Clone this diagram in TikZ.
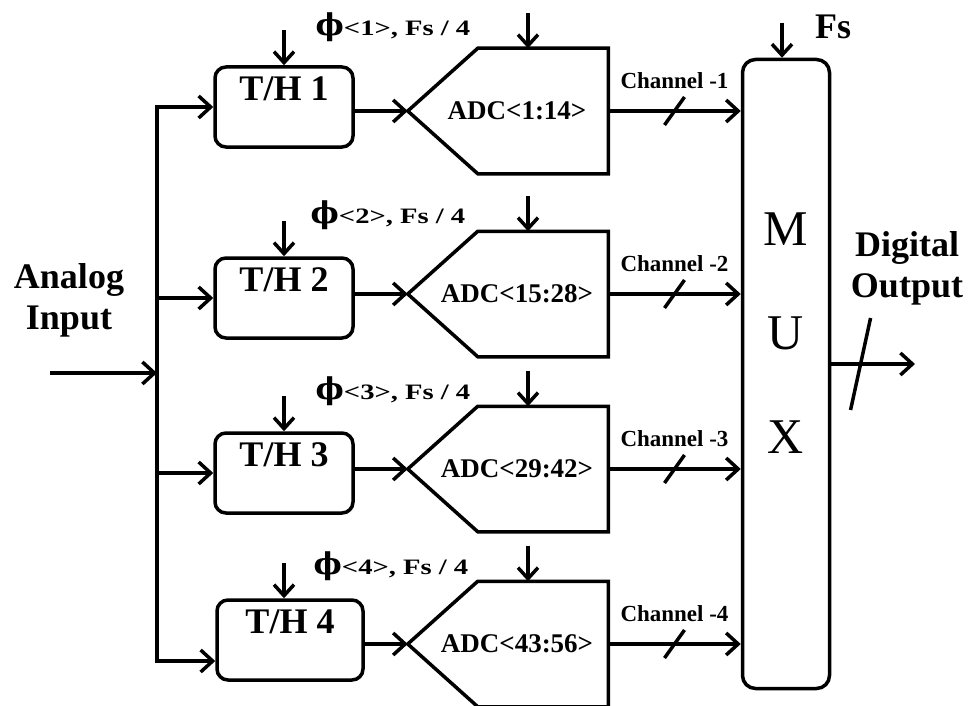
\documentclass[tikz,border=0pt]{standalone}
\usepackage{fontspec}
\setmainfont{Liberation Serif}
\newfontfamily\widefont[FakeStretch=1.3]{Liberation Serif}
\newfontfamily\phifont{DejaVu Serif}
\usetikzlibrary{arrows.meta, positioning}
\tikzset{
    diagram/.style={x=1pt, y=-1pt, line width=3.5pt},
    th box/.style={draw, rounded corners=11pt, inner sep=0pt,
        minimum width=138pt, minimum height=80pt},
    th label/.style={font=\fontsize{36}{40}\selectfont\bfseries,
        anchor=north, inner sep=0pt, yshift=-10pt},
    adc box/.style={inner sep=0pt, minimum width=197pt, minimum height=122pt,
        font=\fontsize{27}{30}\selectfont\bfseries,
        execute at begin node=\hspace*{18pt}},
    adc line/.style={line join=miter},
    mux box/.style={draw, rounded corners=13pt, minimum width=87pt, minimum height=629pt},
    mux label/.style={font=\fontsize{50}{104}\selectfont, align=center, yshift=41pt},
    sig arrow/.style={-{Straight Barb[length=12pt, width=22pt]}},
    clk arrow/.style={-{Straight Barb[length=11pt, width=20pt]}},
    slash/.style={line width=3.5pt},
    chan label/.style={font=\fontsize{23}{26}\selectfont\bfseries, inner sep=0pt},
    phase label/.style={font=\widefont\fontsize{22}{24}\selectfont\bfseries, inner sep=0pt},
    io label/.style={font=\fontsize{36}{41}\selectfont\bfseries, align=center, inner sep=0pt},
}
\newcommand{\adcoutline}[1]{%
  \draw[adc line] (#1.west) -- ([xshift=70pt]#1.north west) -- (#1.north east)
    -- (#1.south east) -- ([xshift=70pt]#1.south west) -- cycle;}
\newcommand{\phasesym}{{\phifont\fontsize{30}{30}\selectfont ϕ}}

\begin{document}
\begin{tikzpicture}[diagram]
  \useasboundingbox (0,0) rectangle (971,706);
  % track and hold stages
  \node[th box, label={[th label]north:T/H 1}] (th1) at (284,107) {};
  \node[th box, label={[th label]north:T/H 2}] (th2) at (284,298) {};
  \node[th box, label={[th label]north:T/H 3}] (th3) at (284,473) {};
  \node[th box, minimum width=146pt, label={[th label]north:T/H 4}] (th4) at (290,640) {};
  % sub ADCs
  \node[adc box] (adc1) at (508,111) {ADC<1:14>};
  \node[adc box] (adc2) at (508,294) {ADC<15:28>};
  \node[adc box] (adc3) at (508,469) {ADC<29:42>};
  \node[adc box] (adc4) at (508,644) {ADC<43:56>};
  \adcoutline{adc1}
  \adcoutline{adc2}
  \adcoutline{adc3}
  \adcoutline{adc4}
  \node[mux box, label={[mux label]center:M\\U\\X}] (mux) at (786,374) {};
  % clocks
  \node[phase label] (ph1) at ([xshift=109pt, yshift=38pt]th1.north) {\phasesym<1>, Fs / 4};
  \node[phase label] (ph2) at ([xshift=104pt, yshift=41pt]th2.north) {\phasesym<2>, Fs / 4};
  \node[phase label] (ph3) at ([xshift=109pt, yshift=40pt]th3.north) {\phasesym<3>, Fs / 4};
  \node[phase label] (ph4) at ([xshift=101pt, yshift=32pt]th4.north) {\phasesym<4>, Fs / 4};
  \draw[clk arrow] ([yshift=35pt]th1.north) -- (th1.north);
  \draw[clk arrow] ([yshift=35pt]th2.north) -- (th2.north);
  \draw[clk arrow] ([yshift=35pt]th3.north) -- (th3.north);
  \draw[clk arrow] ([xshift=-6pt, yshift=35pt]th4.north) -- ([xshift=-6pt]th4.north);
  \draw[clk arrow] ([xshift=20pt, yshift=35pt]adc1.north) -- ([xshift=20pt]adc1.north);
  \draw[clk arrow] ([xshift=20pt, yshift=35pt]adc2.north) -- ([xshift=20pt]adc2.north);
  \draw[clk arrow] ([xshift=20pt, yshift=35pt]adc3.north) -- ([xshift=20pt]adc3.north);
  \draw[clk arrow] ([xshift=20pt, yshift=35pt]adc4.north) -- ([xshift=20pt]adc4.north);
  \draw[clk arrow] ([xshift=-4pt, yshift=35pt]mux.north) -- ([xshift=-4pt]mux.north);
  \node[io label] (fs) at (833,27) {Fs};
  % analog input bus
  \node[io label] (ain label) at (69,300) {Analog\\Input};
  \coordinate (ain) at (50,373);
  \coordinate (bus) at (157,373);
  \draw[sig arrow] (ain) -- (bus);
  \draw[sig arrow] (bus) |- (th1.west);
  \draw[sig arrow] (bus |- th2.west) -- (th2.west);
  \draw[sig arrow] (bus |- th3.west) -- (th3.west);
  \draw[sig arrow] (bus) |- ([yshift=-21pt]th4.west);
  % T/H to ADC
  \draw[sig arrow] (th1.east |- adc1.west) -- (adc1.west);
  \draw[sig arrow] (th2.east |- adc2.west) -- (adc2.west);
  \draw[sig arrow] (th3.east |- adc3.west) -- (adc3.west);
  \draw[sig arrow] (th4.east |- adc4.west) -- (adc4.west);
  % channels
  \draw[sig arrow] (adc1.east) -- coordinate (s1) node[chan label, above=21pt] {Channel -1} (adc1.east -| mux.west);
  \draw[sig arrow] (adc2.east) -- coordinate (s2) node[chan label, above=21pt] {Channel -2} (adc2.east -| mux.west);
  \draw[sig arrow] (adc3.east) -- coordinate (s3) node[chan label, above=21pt] {Channel -3} (adc3.east -| mux.west);
  \draw[sig arrow] (adc4.east) -- coordinate (s4) node[chan label, above=21pt] {Channel -4} (adc4.east -| mux.west);
  \draw[slash] ([shift={(-10pt,-14pt)}]s1) -- ([shift={(10pt,14pt)}]s1);
  \draw[slash] ([shift={(-10pt,-14pt)}]s2) -- ([shift={(10pt,14pt)}]s2);
  \draw[slash] ([shift={(-10pt,-14pt)}]s3) -- ([shift={(10pt,14pt)}]s3);
  \draw[slash] ([shift={(-10pt,-14pt)}]s4) -- ([shift={(10pt,14pt)}]s4);
  % digital output
  \node[io label] (dout label) at (907,268) {Digital\\Output};
  \coordinate (dout) at (915,364);
  \draw[sig arrow] (mux.east |- dout) -- coordinate[pos=0.35] (s5) (dout);
  \draw[slash] ([shift={(-10pt,-46pt)}]s5) -- ([shift={(10pt,46pt)}]s5);
\end{tikzpicture}
\end{document}
